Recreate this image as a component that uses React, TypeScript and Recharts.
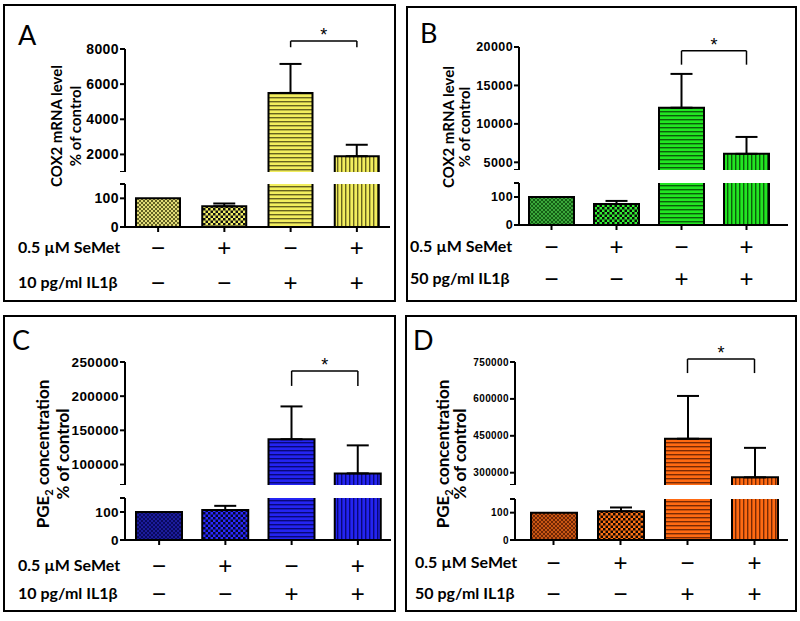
import React from "react";
import { Bar, BarChart, Cell, ErrorBar, ReferenceLine, XAxis, YAxis } from "recharts";

const conditions = ["ctrl", "semet", "il1b", "semet_il1b"];
const seMetSigns = ["−", "+", "−", "+"];
const il1bSigns = ["−", "−", "+", "+"];

// A: COX2 mRNA, 10 pg/ml IL1β
const cox2Low = [100, 72, 5500, 1900];
const cox2LowErr = [0, 10, 1650, 650];
// B: COX2 mRNA, 50 pg/ml IL1β
const cox2High = [100, 75, 12100, 6100];
const cox2HighErr = [0, 11, 4400, 2200];
// C: PGE2, 10 pg/ml IL1β
const pge2Low = [100, 107, 137000, 87000];
const pge2LowErr = [0, 15, 48000, 41000];
// D: PGE2, 50 pg/ml IL1β
const pge2High = [100, 105, 438000, 281000];
const pge2HighErr = [0, 14, 174000, 120000];

const lowerTicks = [0, 100, 150];
const ticksA = [1000, 2000, 4000, 6000, 8000];
const ticksB = [4000, 5000, 10000, 15000, 20000];
const ticksC = [70000, 100000, 150000, 200000, 250000];
const ticksD = [250000, 300000, 450000, 600000, 750000];

const palettes: Record<string, { fine: string[]; dot: string[]; stripe: string[] }> = {
  yellow: { fine: ["#e2dc78", "#626024"], dot: ["#f3ef66", "#111111"], stripe: ["#f2ee5e", "#66621e"] },
  green: { fine: ["#3aa83a", "#145e14"], dot: ["#33ee33", "#0a0a0a"], stripe: ["#22e622", "#0b5c0b"] },
  blue: { fine: ["#1c1c9c", "#0a0a5e"], dot: ["#2a2aff", "#05052a"], stripe: ["#2424f2", "#08087a"] },
  orange: { fine: ["#c85614", "#6e2604"], dot: ["#ff7316", "#120600"], stripe: ["#ff6a12", "#7a2a04"] },
};

const Y_W = 72;
const M_TOP = 36;
const X_H = 80;
const LABEL_FONT = "Lato, 'Liberation Sans', Arial, sans-serif";
const TICK_FONT = "'Liberation Sans', Arial, sans-serif";

type Panel = {
  letter: string;
  pal: string;
  box: { x: number; y: number; w: number; h: number };
  axisX: number;
  plotW: number;
  padL: number;
  padR: number;
  barSize: number;
  tickFont: number;
  upper: [number, number];
  lower: [number, number];
  rows: [number, number];
  rowLabelX: number;
  il1b: string;
  yLabel: { cx: number; cy: number; lh: number; size: number; pge: boolean };
  letterPos: { x: number; y: number };
  values: number[];
  errs: number[];
  ticks: number[];
  bracket: [number, number];
};

const panels: Panel[] = [
  {
    letter: "A", pal: "yellow", box: { x: 3, y: 4, w: 393, h: 298 },
    axisX: 125, plotW: 265, padL: 0, padR: 0, barSize: 44, tickFont: 14,
    upper: [49, 172], lower: [184, 227], rows: [247, 282], rowLabelX: 18,
    il1b: "10 pg/ml IL1β", yLabel: { cx: 66, cy: 126, lh: 19, size: 15, pge: false },
    letterPos: { x: 18, y: 21 }, values: cox2Low, errs: cox2LowErr, ticks: ticksA,
    bracket: [8450, 8100],
  },
  {
    letter: "B", pal: "green", box: { x: 406, y: 6, w: 391, h: 296 },
    axisX: 519, plotW: 269, padL: 0, padR: 9, barSize: 45, tickFont: 12.5,
    upper: [47, 170], lower: [183, 225], rows: [246, 278], rowLabelX: 410,
    il1b: "50 pg/ml IL1β", yLabel: { cx: 456, cy: 127, lh: 16, size: 15, pge: false },
    letterPos: { x: 420, y: 19 }, values: cox2High, errs: cox2HighErr, ticks: ticksB,
    bracket: [19500, 17700],
  },
  {
    letter: "C", pal: "blue", box: { x: 3, y: 315, w: 393, h: 297 },
    axisX: 125, plotW: 266, padL: 1, padR: 0, barSize: 46, tickFont: 13.5,
    upper: [362, 485], lower: [498, 540], rows: [565, 593], rowLabelX: 18,
    il1b: "10 pg/ml IL1β", yLabel: { cx: 53, cy: 454, lh: 20, size: 17, pge: true },
    letterPos: { x: 12, y: 326 }, values: pge2Low, errs: pge2LowErr, ticks: ticksC,
    bracket: [237000, 215000],
  },
  {
    letter: "D", pal: "orange", box: { x: 405, y: 315, w: 392, h: 297 },
    axisX: 515, plotW: 273, padL: 5, padR: 0, barSize: 46, tickFont: 10,
    upper: [362, 485], lower: [499, 540], rows: [562, 593], rowLabelX: 415,
    il1b: "50 pg/ml IL1β", yLabel: { cx: 451, cy: 454, lh: 17, size: 17, pge: true },
    letterPos: { x: 413, y: 326 }, values: pge2High, errs: pge2HighErr, ticks: ticksD,
    bracket: [762000, 705000],
  },
];

function Patterns() {
  return (
    <svg width={0} height={0} style={{ position: "absolute" }}>
      <defs>
        {Object.entries(palettes).map(([k, c]) => (
          <React.Fragment key={k}>
            <pattern id={`${k}-0`} width={4} height={4} patternUnits="userSpaceOnUse">
              <rect width={4} height={4} fill={c.fine[0]} />
              <rect width={2} height={2} fill={c.fine[1]} />
              <rect x={2} y={2} width={2} height={2} fill={c.fine[1]} />
            </pattern>
            <pattern id={`${k}-1`} width={5} height={5} patternUnits="userSpaceOnUse">
              <rect width={5} height={5} fill={c.dot[0]} />
              <rect width={2.5} height={2.5} fill={c.dot[1]} />
              <rect x={2.5} y={2.5} width={2.5} height={2.5} fill={c.dot[1]} />
            </pattern>
            <pattern id={`${k}-2`} width={4} height={4} patternUnits="userSpaceOnUse">
              <rect width={4} height={4} fill={c.stripe[0]} />
              <rect width={4} height={1.4} fill={c.stripe[1]} />
            </pattern>
            <pattern id={`${k}-3`} width={4} height={4} patternUnits="userSpaceOnUse">
              <rect width={4} height={4} fill={c.stripe[0]} />
              <rect width={1.4} height={4} fill={c.stripe[1]} />
            </pattern>
          </React.Fragment>
        ))}
      </defs>
    </svg>
  );
}

const axisStroke = { stroke: "#000", strokeWidth: 2 };
const tickStyle = (size: number) => ({
  fill: "#000",
  fontSize: size,
  fontWeight: 700,
  fontFamily: TICK_FONT,
  letterSpacing: 0.4,
});

function UpperChart({ p }: { p: Panel }) {
  const h = p.upper[1] - p.upper[0];
  const min = p.ticks[0];
  const data = conditions.map((c, i) => ({
    name: c,
    range: [0, p.values[i]],
    err: p.values[i] > min && p.errs[i] > 0 ? [0, p.errs[i]] : null,
  }));
  const [level, leg] = p.bracket;
  return (
    <div style={{ position: "absolute", left: p.axisX - Y_W, top: p.upper[0] - M_TOP }}>
      <BarChart
        width={Y_W + p.plotW + 4}
        height={M_TOP + h}
        data={data}
        barSize={p.barSize}
        margin={{ top: M_TOP, right: 4, left: 0, bottom: 0 }}
      >
        <XAxis dataKey="name" type="category" hide padding={{ left: p.padL, right: p.padR }} />
        <YAxis
          type="number"
          domain={[min, p.ticks[p.ticks.length - 1]]}
          ticks={p.ticks}
          interval={0}
          allowDataOverflow
          width={Y_W}
          tickSize={5}
          tickMargin={1}
          axisLine={axisStroke}
          tickLine={axisStroke}
          tick={tickStyle(p.tickFont)}
          tickFormatter={(v: number) => (v === min ? "" : String(v))}
        />
        <Bar dataKey="range" isAnimationActive={false} stroke="#000" strokeWidth={2}>
          {data.map((_, i) => (
            <Cell key={i} fill={`url(#${p.pal}-${i})`} />
          ))}
          <ErrorBar dataKey="err" width={11} stroke="#000" strokeWidth={2} direction="y" />
        </Bar>
        <ReferenceLine
          segment={[{ x: conditions[2], y: level }, { x: conditions[3], y: level }]}
          stroke="#000"
          strokeWidth={1.5}
          ifOverflow="visible"
          label={{ value: "*", position: "top", offset: 0, fontSize: 18, fill: "#000", fontFamily: TICK_FONT }}
        />
        <ReferenceLine
          segment={[{ x: conditions[2], y: level }, { x: conditions[2], y: leg }]}
          stroke="#000"
          strokeWidth={1.5}
          ifOverflow="visible"
        />
        <ReferenceLine
          segment={[{ x: conditions[3], y: level }, { x: conditions[3], y: leg }]}
          stroke="#000"
          strokeWidth={1.5}
          ifOverflow="visible"
        />
      </BarChart>
    </div>
  );
}

function LowerChart({ p }: { p: Panel }) {
  const h = p.lower[1] - p.lower[0];
  const top = 6;
  const max = lowerTicks[lowerTicks.length - 1];
  const data = conditions.map((c, i) => ({
    name: c,
    range: [0, p.values[i]],
    err: p.values[i] <= max && p.errs[i] > 0 ? [0, p.errs[i]] : null,
  }));
  const rowOff = [p.rows[0] - p.lower[1], p.rows[1] - p.lower[1]];
  const signTick = (props: any) => {
    const { x, y, index } = props;
    const base = y - 5;
    return (
      <g>
        <text x={x} y={base + rowOff[0]} textAnchor="middle" dominantBaseline="central" fontSize={24} fontFamily={TICK_FONT} fill="#000">
          {seMetSigns[index]}
        </text>
        <text x={x} y={base + rowOff[1]} textAnchor="middle" dominantBaseline="central" fontSize={24} fontFamily={TICK_FONT} fill="#000">
          {il1bSigns[index]}
        </text>
      </g>
    );
  };
  return (
    <div style={{ position: "absolute", left: p.axisX - Y_W, top: p.lower[0] - top }}>
      <BarChart
        width={Y_W + p.plotW + 4}
        height={top + h + X_H}
        data={data}
        barSize={p.barSize}
        margin={{ top, right: 4, left: 0, bottom: 0 }}
      >
        <XAxis
          dataKey="name"
          type="category"
          height={X_H}
          padding={{ left: p.padL, right: p.padR }}
          interval={0}
          tickSize={5}
          tickMargin={0}
          axisLine={axisStroke}
          tickLine={axisStroke}
          tick={signTick}
        />
        <YAxis
          type="number"
          domain={[0, max]}
          ticks={lowerTicks}
          interval={0}
          allowDataOverflow
          width={Y_W}
          tickSize={5}
          tickMargin={1}
          axisLine={axisStroke}
          tickLine={axisStroke}
          tick={tickStyle(p.tickFont)}
          tickFormatter={(v: number) => (v === max ? "" : String(v))}
        />
        <Bar dataKey="range" isAnimationActive={false} stroke="#000" strokeWidth={2}>
          {data.map((_, i) => (
            <Cell key={i} fill={`url(#${p.pal}-${i})`} />
          ))}
          <ErrorBar dataKey="err" width={11} stroke="#000" strokeWidth={2} direction="y" />
        </Bar>
      </BarChart>
    </div>
  );
}

function PanelView({ p }: { p: Panel }) {
  const rowStyle: React.CSSProperties = {
    position: "absolute",
    left: p.rowLabelX,
    fontFamily: LABEL_FONT,
    fontWeight: 700,
    fontSize: 16,
    lineHeight: "20px",
    whiteSpace: "nowrap",
    color: "#000",
  };
  return (
    <>
      <div
        style={{
          position: "absolute",
          left: p.box.x,
          top: p.box.y,
          width: p.box.w,
          height: p.box.h,
          border: "2px solid #000",
          boxSizing: "border-box",
        }}
      />
      <div
        style={{
          position: "absolute",
          left: p.letterPos.x,
          top: p.letterPos.y,
          fontFamily: LABEL_FONT,
          fontSize: 27,
          lineHeight: 1,
        }}
      >
        {p.letter}
      </div>
      <div
        style={{
          position: "absolute",
          left: p.yLabel.cx,
          top: p.yLabel.cy,
          transform: "translate(-50%, -50%) rotate(-90deg)",
          whiteSpace: "nowrap",
          textAlign: "center",
          fontFamily: LABEL_FONT,
          fontWeight: 700,
          fontSize: p.yLabel.size,
          lineHeight: `${p.yLabel.lh}px`,
        }}
      >
        <div>
          {p.yLabel.pge ? (
            <>
              PGE<sub style={{ fontSize: "0.65em", lineHeight: 0 }}>2</sub> concentration
            </>
          ) : (
            "COX2 mRNA level"
          )}
        </div>
        <div>% of control</div>
      </div>
      <UpperChart p={p} />
      <LowerChart p={p} />
      <div style={{ ...rowStyle, top: p.rows[0] - 10 }}>0.5 µM SeMet</div>
      <div style={{ ...rowStyle, top: p.rows[1] - 10 }}>{p.il1b}</div>
    </>
  );
}

export default function App() {
  return (
    <div style={{ position: "absolute", left: 0, top: 0, width: 800, height: 621, background: "#fff" }}>
      <Patterns />
      {panels.map((p) => (
        <PanelView key={p.letter} p={p} />
      ))}
    </div>
  );
}
